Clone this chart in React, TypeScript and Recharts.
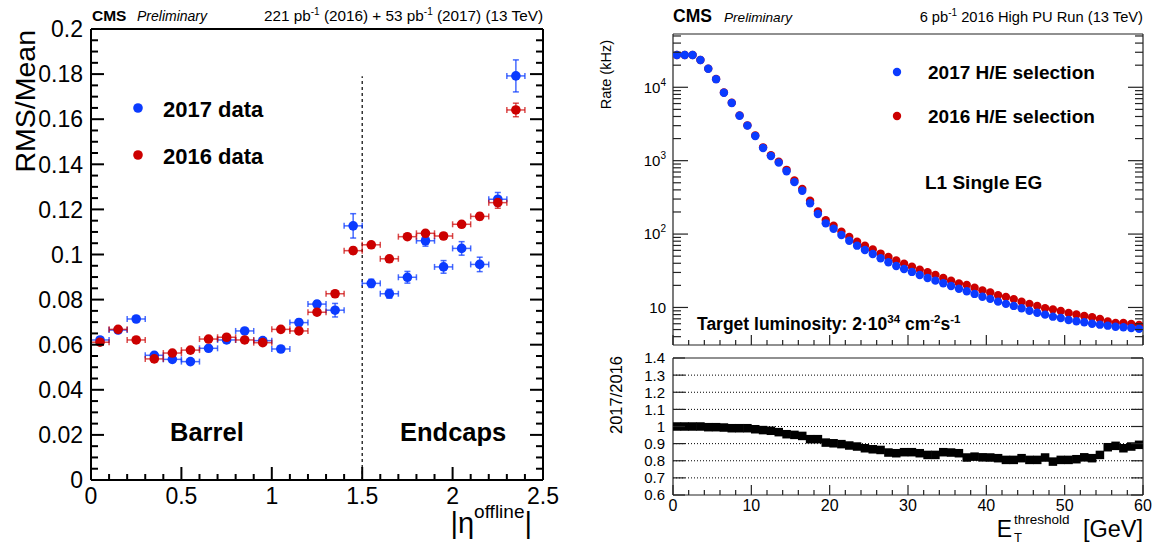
import React from 'react';
import { ScatterChart, Scatter, XAxis, YAxis, ErrorBar, ReferenceLine } from 'recharts';

const FONT = '"Liberation Sans", Arial, Helvetica, sans-serif';
const BLUE = '#0b3bff';
const RED = '#cc0000';

// ---------- left pad: RMS/Mean vs |eta|
const ETA_BINS = [0.05, 0.15, 0.25, 0.35, 0.45, 0.55, 0.65, 0.75, 0.85, 0.95, 1.05, 1.15, 1.25, 1.35, 1.45, 1.55, 1.65, 1.75, 1.85, 1.95, 2.05, 2.15, 2.25, 2.35];
const ETA_HALF_WIDTH = 0.05;
const RMS_2017 = [0.0621, 0.0665, 0.0714, 0.0553, 0.0535, 0.0525, 0.0584, 0.0621, 0.0661, 0.0618, 0.0581, 0.0698, 0.078, 0.0753, 0.1127, 0.0872, 0.0826, 0.0899, 0.1061, 0.0945, 0.1027, 0.0956, 0.1245, 0.1792];
const RMS_2017_ERR = [0.0012, 0.001, 0.001, 0.0012, 0.001, 0.001, 0.001, 0.001, 0.001, 0.001, 0.001, 0.0015, 0.0015, 0.003, 0.0054, 0.0018, 0.002, 0.0026, 0.0024, 0.0028, 0.003, 0.0032, 0.003, 0.0071];
const RMS_2016 = [0.0611, 0.0668, 0.0621, 0.0537, 0.0563, 0.0576, 0.0625, 0.0633, 0.0621, 0.0609, 0.0668, 0.0661, 0.0744, 0.0826, 0.1017, 0.1043, 0.0981, 0.1079, 0.1094, 0.1082, 0.1134, 0.1169, 0.123, 0.1641];
const RMS_2016_ERR = [0.0008, 0.0008, 0.0008, 0.0008, 0.0008, 0.0008, 0.0008, 0.0008, 0.0008, 0.0008, 0.0008, 0.0008, 0.001, 0.001, 0.0015, 0.0012, 0.0012, 0.0012, 0.0012, 0.0012, 0.0012, 0.0015, 0.0025, 0.003];
const ETA_MAJOR = [0, 0.5, 1, 1.5, 2, 2.5];
const RMS_MAJOR = [0, 0.02, 0.04, 0.06, 0.08, 0.1, 0.12, 0.14, 0.16, 0.18, 0.2];
const BARREL_EDGE = 1.5;
const DIVIDER_TOP = 0.179;

// ---------- right pads: L1 single EG rate vs threshold
const ET_BINS = [0.5, 1.5, 2.5, 3.5, 4.5, 5.5, 6.5, 7.5, 8.5, 9.5, 10.5, 11.5, 12.5, 13.5, 14.5, 15.5, 16.5, 17.5, 18.5, 19.5, 20.5, 21.5, 22.5, 23.5, 24.5, 25.5, 26.5, 27.5, 28.5, 29.5, 30.5, 31.5, 32.5, 33.5, 34.5, 35.5, 36.5, 37.5, 38.5, 39.5, 40.5, 41.5, 42.5, 43.5, 44.5, 45.5, 46.5, 47.5, 48.5, 49.5, 50.5, 51.5, 52.5, 53.5, 54.5, 55.5, 56.5, 57.5, 58.5, 59.5];
const RATE_2017 = [27500, 27500, 27500, 23500, 17900, 12900, 8430, 6110, 4100, 3000, 2170, 1490, 1160, 940, 718, 510, 390, 263, 188, 140, 118, 97, 81, 69.5, 60.7, 53.6, 46.8, 41.3, 36.8, 33.5, 30.5, 27.7, 25.2, 23.2, 21.4, 19.6, 18.0, 16.6, 15.3, 14.0, 13.1, 12.0, 11.2, 10.5, 9.75, 9.04, 8.49, 7.98, 7.49, 7.19, 6.76, 6.49, 6.29, 6.01, 5.83, 5.65, 5.47, 5.37, 5.26, 5.14];
const RATE_2016 = [27500, 27500, 27500, 23500, 17950, 12950, 8480, 6170, 4140, 3030, 2200, 1520, 1190, 970, 750, 536, 413, 284, 203, 155, 130, 108, 91, 78.7, 69.5, 61.8, 54.2, 48.7, 43.6, 39.4, 35.9, 32.8, 30.2, 27.8, 25.2, 23.1, 21.3, 20.3, 18.6, 17.1, 16.0, 14.7, 13.9, 13.0, 12.0, 11.2, 10.5, 9.74, 9.42, 8.93, 8.4, 8.02, 7.67, 7.37, 6.99, 6.43, 6.17, 6.15, 5.96, 5.76];
const RATIO = [1.0, 1.0, 1.0, 1.0, 0.996, 0.996, 0.994, 0.99, 0.99, 0.99, 0.984, 0.979, 0.975, 0.967, 0.955, 0.951, 0.945, 0.926, 0.926, 0.906, 0.902, 0.897, 0.889, 0.883, 0.873, 0.867, 0.863, 0.848, 0.844, 0.85, 0.85, 0.844, 0.834, 0.834, 0.85, 0.848, 0.844, 0.819, 0.824, 0.82, 0.819, 0.815, 0.805, 0.805, 0.815, 0.805, 0.805, 0.819, 0.795, 0.805, 0.805, 0.809, 0.82, 0.815, 0.834, 0.879, 0.887, 0.873, 0.883, 0.893];
const ET_MAJOR = [0, 10, 20, 30, 40, 50, 60];
const RATE_MAJOR = [10, 100, 1000, 10000];
const RATE_DOMAIN = [3.08, 53200];
const RATIO_MAJOR = [0.6, 0.7, 0.8, 0.9, 1, 1.1, 1.2, 1.3, 1.4];
const RATIO_GRID = [0.7, 0.8, 0.9, 1, 1.1, 1.2, 1.3];

// minor ticks between majors
const subdivide = (majors: number[], n: number) => {
  const out: number[] = [];
  for (let i = 0; i < majors.length - 1; i++)
    for (let k = 1; k < n; k++) out.push(majors[i] + ((majors[i + 1] - majors[i]) * k) / n);
  return out;
};
const logMinors = (lo: number, hi: number) => {
  const out: number[] = [];
  [1, 10, 100, 1000, 10000].forEach((d) => {
    for (let m = 2; m <= 9; m++) if (m * d >= lo && m * d <= hi) out.push(m * d);
  });
  return out;
};

const ETA_TICKS = [...ETA_MAJOR, ...subdivide(ETA_MAJOR, 5)];
const RMS_TICKS = [...RMS_MAJOR, ...subdivide(RMS_MAJOR, 4)];
const ET_TICKS = [...ET_MAJOR, ...subdivide(ET_MAJOR, 5)];
const RATE_TICKS = [...RATE_MAJOR, ...logMinors(RATE_DOMAIN[0], RATE_DOMAIN[1])];

const leftData2017 = ETA_BINS.map((x, i) => ({ x, y: RMS_2017[i], ex: ETA_HALF_WIDTH, ey: RMS_2017_ERR[i] }));
const leftData2016 = ETA_BINS.map((x, i) => ({ x, y: RMS_2016[i], ex: ETA_HALF_WIDTH, ey: RMS_2016_ERR[i] }));
const rate2017 = ET_BINS.map((x, i) => ({ x, y: RATE_2017[i] }));
const rate2016 = ET_BINS.map((x, i) => ({ x, y: RATE_2016[i] }));
const ratioData = ET_BINS.map((x, i) => ({ x, y: RATIO[i] }));

type Side = 'top' | 'bottom' | 'left' | 'right';
interface TickSpec {
  side: Side;
  majors: number[];
  majorLen: number;
  minorLen: number;
  color: string;
  width: number;
  fontSize?: number;
  gap?: number;
  label?: (v: number) => React.ReactNode;
}

const near = (a: number, b: number) => Math.abs(a - b) <= 1e-9 * Math.max(1, Math.abs(a), Math.abs(b));

// ROOT-like inward ticks, drawn by the axis itself
function tickRenderer(s: TickSpec) {
  return (props: any) => {
    const { x, y, payload } = props;
    const v = Number(payload?.value);
    const major = s.majors.some((m) => near(m, v));
    const len = major ? s.majorLen : s.minorLen;
    let x2 = x;
    let y2 = y;
    if (s.side === 'bottom') y2 = y - len;
    if (s.side === 'top') y2 = y + len;
    if (s.side === 'left') x2 = x + len;
    if (s.side === 'right') x2 = x - len;
    let text: React.ReactNode = null;
    if (major && s.label) {
      const fs = s.fontSize ?? 14;
      const g = s.gap ?? 6;
      if (s.side === 'bottom')
        text = (
          <text x={x} y={y + g + fs * 0.72} textAnchor="middle" fontSize={fs} fontFamily={FONT} fill="#000">
            {s.label(v)}
          </text>
        );
      if (s.side === 'left')
        text = (
          <text x={x - g} y={y + fs * 0.36} textAnchor="end" fontSize={fs} fontFamily={FONT} fill="#000">
            {s.label(v)}
          </text>
        );
    }
    return (
      <g>
        <line x1={x} y1={y} x2={x2} y2={y2} stroke={s.color} strokeWidth={s.width} />
        {text}
      </g>
    );
  };
}

const plain = (v: number) => String(v);
const powerOfTen = (v: number) => {
  const e = Math.round(Math.log10(v));
  if (e === 1) return '10';
  return (
    <>
      <tspan>10</tspan>
      <tspan dy={-7} fontSize={10}>{e}</tspan>
    </>
  );
};

const dot = (color: string, r: number) => (p: any) =>
  p.cx == null ? <g /> : <circle cx={p.cx} cy={p.cy} r={r} fill={color} />;
const square = (color: string, s: number) => (p: any) =>
  p.cx == null ? <g /> : <rect x={p.cx - s / 2} y={p.cy - s / 2} width={s} height={s} fill={color} />;

const AX_L = { stroke: '#000', strokeWidth: 2 };
const AX_R = { stroke: '#222', strokeWidth: 1.2 };

// axes take 1px each (a zero-sized axis is not drawn), margins compensate
const axisBase = { tickSize: 0, tickMargin: 0, tickLine: false, interval: 0 as const, allowDataOverflow: true };

const LeftPad = () => (
  <ScatterChart width={580} height={545} margin={{ top: 28, right: 36, bottom: 64, left: 90 }}>
    <XAxis
      {...axisBase}
      xAxisId="b"
      type="number"
      dataKey="x"
      domain={[0, 2.5]}
      ticks={ETA_TICKS}
      height={1}
      axisLine={AX_L}
      tick={tickRenderer({ side: 'bottom', majors: ETA_MAJOR, majorLen: 13, minorLen: 6, color: '#000', width: 2, fontSize: 23, gap: 7, label: plain })}
    />
    <XAxis
      {...axisBase}
      xAxisId="t"
      orientation="top"
      type="number"
      domain={[0, 2.5]}
      ticks={ETA_TICKS}
      height={1}
      axisLine={AX_L}
      tick={tickRenderer({ side: 'top', majors: ETA_MAJOR, majorLen: 13, minorLen: 6, color: '#000', width: 2 })}
    />
    <YAxis
      {...axisBase}
      yAxisId="l"
      type="number"
      dataKey="y"
      domain={[0, 0.2]}
      ticks={RMS_TICKS}
      width={1}
      axisLine={AX_L}
      tick={tickRenderer({ side: 'left', majors: RMS_MAJOR, majorLen: 13, minorLen: 7, color: '#000', width: 2, fontSize: 23, gap: 8, label: plain })}
    />
    <YAxis
      {...axisBase}
      yAxisId="r"
      orientation="right"
      type="number"
      domain={[0, 0.2]}
      ticks={RMS_TICKS}
      width={1}
      axisLine={AX_L}
      tick={tickRenderer({ side: 'right', majors: RMS_MAJOR, majorLen: 13, minorLen: 7, color: '#000', width: 2 })}
    />
    <ReferenceLine
      xAxisId="b"
      yAxisId="l"
      segment={[{ x: BARREL_EDGE, y: 0 }, { x: BARREL_EDGE, y: DIVIDER_TOP }]}
      stroke="#000"
      strokeWidth={1.2}
      strokeDasharray="3 3"
    />
    <Scatter data={leftData2017} xAxisId="b" yAxisId="l" fill={BLUE} shape={dot(BLUE, 4.8)} isAnimationActive={false}>
      <ErrorBar dataKey="ex" direction="x" width={3} stroke={BLUE} strokeOpacity={0.75} strokeWidth={1.5} isAnimationActive={false} />
      <ErrorBar dataKey="ey" direction="y" width={3} stroke={BLUE} strokeOpacity={0.75} strokeWidth={1.5} isAnimationActive={false} />
    </Scatter>
    <Scatter data={leftData2016} xAxisId="b" yAxisId="l" fill={RED} shape={dot(RED, 4.8)} isAnimationActive={false}>
      <ErrorBar dataKey="ex" direction="x" width={3} stroke={RED} strokeOpacity={0.7} strokeWidth={1.5} isAnimationActive={false} />
      <ErrorBar dataKey="ey" direction="y" width={3} stroke={RED} strokeOpacity={0.7} strokeWidth={1.5} isAnimationActive={false} />
    </Scatter>
  </ScatterChart>
);

const RatePad = () => (
  <ScatterChart width={579} height={352} margin={{ top: 33, right: 15, bottom: 6, left: 92 }}>
    <XAxis {...axisBase} xAxisId="b" type="number" dataKey="x" domain={[0, 60]} ticks={ET_TICKS} height={1} axisLine={AX_R}
      tick={tickRenderer({ side: 'bottom', majors: ET_MAJOR, majorLen: 10, minorLen: 5, color: '#222', width: 1.2 })} />
    <XAxis {...axisBase} xAxisId="t" orientation="top" type="number" domain={[0, 60]} ticks={ET_TICKS} height={1} axisLine={AX_R}
      tick={tickRenderer({ side: 'top', majors: ET_MAJOR, majorLen: 10, minorLen: 5, color: '#222', width: 1.2 })} />
    <YAxis {...axisBase} yAxisId="l" type="number" dataKey="y" scale="log" domain={RATE_DOMAIN} ticks={RATE_TICKS} width={1} axisLine={AX_R}
      tick={tickRenderer({ side: 'left', majors: RATE_MAJOR, majorLen: 15, minorLen: 8, color: '#222', width: 1.2, fontSize: 15, gap: 7, label: powerOfTen })} />
    <YAxis {...axisBase} yAxisId="r" orientation="right" type="number" scale="log" domain={RATE_DOMAIN} ticks={RATE_TICKS} width={1} axisLine={AX_R}
      tick={tickRenderer({ side: 'right', majors: RATE_MAJOR, majorLen: 15, minorLen: 8, color: '#222', width: 1.2 })} />
    <Scatter data={rate2016} xAxisId="b" yAxisId="l" fill={RED} shape={dot(RED, 4.2)} isAnimationActive={false} />
    <Scatter data={rate2017} xAxisId="b" yAxisId="l" fill={BLUE} shape={dot(BLUE, 4.2)} isAnimationActive={false} />
  </ScatterChart>
);

const RatioPad = () => (
  <ScatterChart width={579} height={205} margin={{ top: 17, right: 15, bottom: 49, left: 92 }}>
    <XAxis {...axisBase} xAxisId="b" type="number" dataKey="x" domain={[0, 60]} ticks={ET_TICKS} height={1} axisLine={AX_R}
      tick={tickRenderer({ side: 'bottom', majors: ET_MAJOR, majorLen: 10, minorLen: 5, color: '#222', width: 1.2, fontSize: 16, gap: 4, label: plain })} />
    <XAxis {...axisBase} xAxisId="t" orientation="top" type="number" domain={[0, 60]} ticks={ET_TICKS} height={1} axisLine={AX_R}
      tick={tickRenderer({ side: 'top', majors: ET_MAJOR, majorLen: 6, minorLen: 3, color: '#222', width: 1.2 })} />
    <YAxis {...axisBase} yAxisId="l" type="number" dataKey="y" domain={[0.6, 1.4]} ticks={RATIO_MAJOR} width={1} axisLine={AX_R}
      tick={tickRenderer({ side: 'left', majors: RATIO_MAJOR, majorLen: 12, minorLen: 6, color: '#222', width: 1.2, fontSize: 15, gap: 8, label: plain })} />
    <YAxis {...axisBase} yAxisId="r" orientation="right" type="number" domain={[0.6, 1.4]} ticks={RATIO_MAJOR} width={1} axisLine={AX_R}
      tick={tickRenderer({ side: 'right', majors: RATIO_MAJOR, majorLen: 12, minorLen: 6, color: '#222', width: 1.2 })} />
    {RATIO_GRID.map((v) => (
      <ReferenceLine key={v} xAxisId="b" yAxisId="l" y={v} stroke="#000" strokeWidth={1} strokeDasharray="1 2" />
    ))}
    <Scatter data={ratioData} xAxisId="b" yAxisId="l" fill="#000" shape={square('#000', 8.5)} isAnimationActive={false} />
  </ScatterChart>
);

const Labels = () => (
  <svg width={1159} height={545} style={{ position: 'absolute', left: 0, top: 0, pointerEvents: 'none' }} fontFamily={FONT}>
    {/* left pad */}
    <text x={92} y={21} fontSize={15.5} fontWeight="bold">CMS</text>
    <text x={137} y={21} fontSize={14} fontStyle="italic">Preliminary</text>
    <text x={543} y={21} fontSize={15.3} textAnchor="end">
      221 pb<tspan dy={-6} fontSize={10}>-1</tspan>
      <tspan dy={6}> (2016) + 53 pb</tspan>
      <tspan dy={-6} fontSize={10}>-1</tspan>
      <tspan dy={6}> (2017) (13 TeV)</tspan>
    </text>
    <text transform="translate(35,30) rotate(-90)" textAnchor="end" fontSize={28.5}>RMS/Mean</text>
    <text x={532} y={533} textAnchor="end" fontSize={29}>
      |η<tspan dy={-15} fontSize={19}>offline</tspan>
      <tspan dy={15}>|</tspan>
    </text>
    <circle cx={138} cy={108} r={4.8} fill={BLUE} />
    <text x={163} y={117} fontSize={22} fontWeight="bold">2017 data</text>
    <circle cx={138} cy={155} r={4.8} fill={RED} />
    <text x={163} y={164} fontSize={22} fontWeight="bold">2016 data</text>
    <text x={170} y={441} fontSize={25.5} fontWeight="bold">Barrel</text>
    <text x={400} y={441} fontSize={25.5} fontWeight="bold">Endcaps</text>

    {/* right pads */}
    <text x={673} y={22} fontSize={17.5} fontWeight="bold">CMS</text>
    <text x={724} y={22} fontSize={13.6} fontStyle="italic">Preliminary</text>
    <text x={1143} y={22} fontSize={14.7} textAnchor="end">
      6 pb<tspan dy={-6} fontSize={10}>-1</tspan>
      <tspan dy={6}> 2016 High PU Run (13 TeV)</tspan>
    </text>
    <text transform="translate(611,40) rotate(-90)" textAnchor="end" fontSize={14.5}>Rate (kHz)</text>
    <circle cx={897} cy={72} r={4.2} fill={BLUE} />
    <text x={928} y={79} fontSize={19} fontWeight="bold">2017 H/E selection</text>
    <circle cx={897} cy={116} r={4.2} fill={RED} />
    <text x={928} y={123} fontSize={19} fontWeight="bold">2016 H/E selection</text>
    <text x={925} y={189} fontSize={19} fontWeight="bold">L1 Single EG</text>
    <text x={697} y={330} fontSize={17.5} fontWeight="bold">
      Target luminosity: 2·10<tspan dy={-7} fontSize={11.5}>34</tspan>
      <tspan dy={7}> cm</tspan>
      <tspan dy={-7} fontSize={11.5}>-2</tspan>
      <tspan dy={7}>s</tspan>
      <tspan dy={-7} fontSize={11.5}>-1</tspan>
    </text>
    <text transform="translate(622,356) rotate(-90)" textAnchor="end" fontSize={16.5}>2017/2016</text>
    <text x={1143} y={537} textAnchor="end" fontSize={23.5}>[GeV]</text>
    <text x={1012} y={537} textAnchor="end" fontSize={23}>E</text>
    <text x={1014} y={524} fontSize={13.5}>threshold</text>
    <text x={1014} y={542} fontSize={13}>T</text>
  </svg>
);

export default function App() {
  return (
    <div style={{ position: 'absolute', left: 0, top: 0, width: 1159, height: 545, background: '#fff', fontFamily: FONT }}>
      <div style={{ position: 'absolute', left: 0, top: 0 }}>
        <LeftPad />
      </div>
      <div style={{ position: 'absolute', left: 580, top: 0 }}>
        <RatePad />
      </div>
      <div style={{ position: 'absolute', left: 580, top: 340 }}>
        <RatioPad />
      </div>
      <Labels />
    </div>
  );
}
